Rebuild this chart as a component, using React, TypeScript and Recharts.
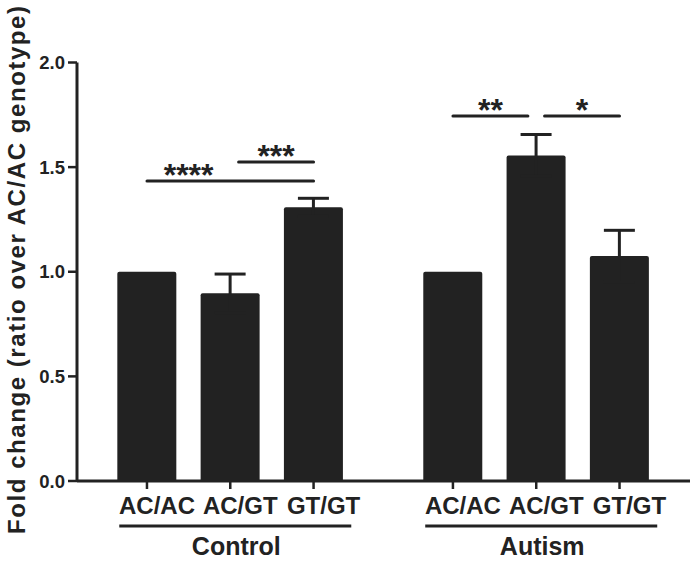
import React from 'react';
import { BarChart, Bar, XAxis, YAxis, ErrorBar, ReferenceLine, ReferenceDot } from 'recharts';

// ---- data ----
const groups = ['Control', 'Autism'];
const genotypes = ['AC/AC', 'AC/GT', 'GT/GT'];
const controlFold = [1.0, 0.897, 1.308];
const controlSem = [0, 0.092, 0.043];
const autismFold = [1.0, 1.556, 1.075];
const autismSem = [0, 0.1, 0.123];
const yTicks = [0, 0.5, 1.0, 1.5, 2.0];
const yLabel = 'Fold change (ratio over AC/AC genotype)';

// significance brackets (category indices within a group)
const sigGroup = [0, 0, 1, 1];
const sigFrom = [0, 1, 0, 1];
const sigTo = [2, 2, 1, 2];
const sigLevel = [1.434, 1.525, 1.744, 1.744];
const sigStars = ['****', '***', '**', '*'];
const sigStarsFrom = [0, 1, 0, 1];
const sigStarsTo = [1, 2, 1, 2];

// ---- layout / style ----
const GROUP_GAP = 0.673;
const TRIM = 0.1;
const INK = '#222222';
const FONT = '"Liberation Sans", Arial, Helvetica, sans-serif';

const folds = [controlFold, autismFold];
const sems = [controlSem, autismSem];
const slot = (g: number, i: number) => g * (genotypes.length + GROUP_GAP) + i;

const rows = groups.flatMap((group, g) =>
  genotypes.map((genotype, i) => ({
    pos: slot(g, i),
    group,
    genotype,
    gi: i,
    fold: folds[g][i],
    sem: sems[g][i],
  }))
);

const brackets = sigStars.map((stars, k) => {
  const g = sigGroup[k];
  const from = sigFrom[k];
  const to = sigTo[k];
  const x1 = slot(g, from) + (from === 1 ? TRIM : 0);
  const x2 = slot(g, to) - (to === 1 ? TRIM : 0);
  const sameSpan = sigStarsFrom[k] === from && sigStarsTo[k] === to;
  const labelX = sameSpan ? (x1 + x2) / 2 : (slot(g, sigStarsFrom[k]) + slot(g, sigStarsTo[k])) / 2;
  return { x1, x2, y: sigLevel[k], stars, labelX };
});

const GenotypeTick = (props: any) => {
  const { x, y, payload } = props;
  const row = rows.find((r) => Math.abs(r.pos - payload.value) < 1e-6);
  if (!row) return null;
  return (
    <g>
      <text x={x + 10} y={y + 25} textAnchor="middle" fontFamily={FONT} fontWeight="bold" fontSize={24} fill={INK}>
        {row.genotype}
      </text>
      {row.gi === 1 && (
        <g>
          <line x1={x - 111} x2={x + 121} y1={y + 37} y2={y + 37} stroke={INK} strokeWidth={3} />
          <text x={x + 6} y={y + 66} textAnchor="middle" fontFamily={FONT} fontWeight="bold" fontSize={25} fill={INK}>
            {row.group}
          </text>
        </g>
      )}
    </g>
  );
};

const YLabel = () => (
  <text
    x={25}
    y={534}
    transform="rotate(-90 25 534)"
    textAnchor="start"
    fontFamily={FONT}
    fontWeight="bold"
    fontSize={24}
    fill={INK}
    textLength={528}
    lengthAdjust="spacing"
  >
    {yLabel}
  </text>
);

export default function App() {
  return (
    <div style={{ position: 'absolute', left: 0, top: 0, background: '#fff' }}>
      <BarChart
        width={698}
        height={564}
        data={rows}
        margin={{ top: 62.5, right: 8, bottom: 0, left: 0 }}
        barCategoryGap={0}
      >
        <XAxis
          dataKey="pos"
          type="number"
          scale="linear"
          domain={[-0.84, 6.519]}
          allowDataOverflow
          ticks={rows.map((r) => r.pos)}
          interval={0}
          height={83}
          tickSize={8}
          tickMargin={0}
          axisLine={{ stroke: INK, strokeWidth: 3 }}
          tickLine={{ stroke: INK, strokeWidth: 2.5 }}
          tick={<GenotypeTick />}
        />
        <YAxis
          type="number"
          domain={[0, 2]}
          ticks={yTicks}
          interval={0}
          width={77}
          tickSize={9}
          tickMargin={3}
          tickFormatter={(v: number) => v.toFixed(1)}
          axisLine={{ stroke: INK, strokeWidth: 3 }}
          tickLine={{ stroke: INK, strokeWidth: 2.5 }}
          tick={{ fill: INK, fontSize: 18.5, fontWeight: 'bold', fontFamily: FONT }}
          label={<YLabel />}
        />
        <Bar dataKey="fold" fill={INK} barSize={59} radius={[2, 2, 0, 0]} isAnimationActive={false}>
          <ErrorBar dataKey="sem" direction="y" width={15.5} stroke={INK} strokeWidth={3} isAnimationActive={false} />
        </Bar>
        {brackets.map((b, k) => (
          <ReferenceLine
            key={'l' + k}
            segment={[
              { x: b.x1, y: b.y },
              { x: b.x2, y: b.y },
            ]}
            stroke={INK}
            strokeWidth={3}
            strokeLinecap="round"
          />
        ))}
        {brackets.map((b, k) => (
          <ReferenceDot
            key={'s' + k}
            x={b.labelX}
            y={b.y}
            r={0}
            shape={(p: any) => (
              <text
                x={p.cx}
                y={p.cy + 5}
                textAnchor="middle"
                fontFamily={FONT}
                fontWeight="bold"
                fontSize={32}
                fill={INK}
              >
                {b.stars}
              </text>
            )}
          />
        ))}
      </BarChart>
    </div>
  );
}
